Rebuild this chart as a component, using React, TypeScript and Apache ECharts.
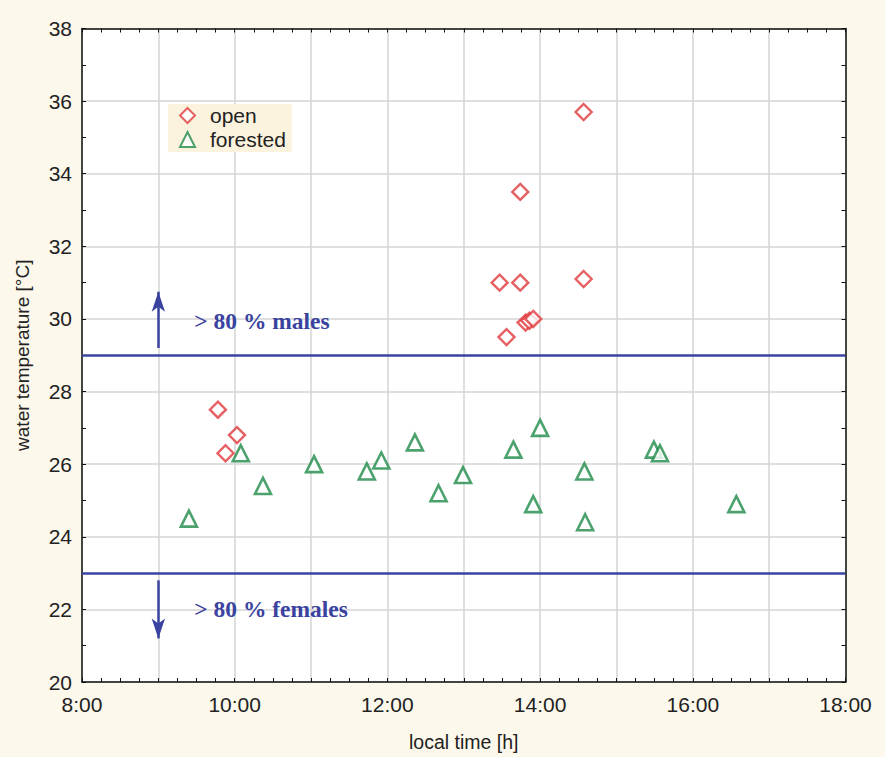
import React, { useEffect, useRef } from "react";
import * as echarts from "echarts";

// local time in decimal hours, water temperature in °C
const openTime = [9.78, 9.88, 10.03, 13.47, 13.56, 13.74, 13.74, 13.81, 13.86, 13.91, 14.57, 14.57];
const openTemp = [27.5, 26.3, 26.8, 31.0, 29.5, 31.0, 33.5, 29.9, 29.95, 30.0, 31.1, 35.7];

const forestTime = [9.4, 10.08, 10.37, 11.04, 11.73, 11.92, 12.36, 12.67, 12.99, 13.65, 14.0, 13.91, 14.58, 14.59, 15.49, 15.57, 16.57];
const forestTemp = [24.5, 26.3, 25.4, 26.0, 25.8, 26.1, 26.6, 25.2, 25.7, 26.4, 27.0, 24.9, 25.8, 24.4, 26.4, 26.3, 24.9];

const thresholds = [29, 23];
const arrowUp = [[9, 29.2], [9, 30.75]];
const arrowDown = [[9, 22.8], [9, 21.2]];
const annotations = [
  { text: "> 80 % males", at: [9.47, 29.95] },
  { text: "> 80 % females", at: [9.47, 22.0] },
];

const xLabels = ["8:00", "10:00", "12:00", "14:00", "16:00", "18:00"];
const yLabels = ["20", "22", "24", "26", "28", "30", "32", "34", "36", "38"];

const BLUE = "#3a43a0";
const RED = "#e0383c";
const GREEN = "#1f8b47";

export default function App() {
  const ref = useRef<HTMLDivElement>(null);
  useEffect(() => {
    document.body.style.margin = "0";
    const chart = echarts.init(ref.current!, null, { renderer: "svg" });
    const axisBase = {
      axisLine: { show: true, lineStyle: { color: "#111", width: 1.5 } },
      axisTick: { show: true, inside: true, length: 4, lineStyle: { color: "#111" } },
    };
    chart.setOption({
      animation: false,
      backgroundColor: "#fcf8ec",
      textStyle: { fontFamily: "Liberation Sans, Arial, sans-serif" },
      grid: { left: 82, top: 28.5, right: 39.5, bottom: 68, show: true, backgroundColor: "#ffffff", borderWidth: 0 },
      legend: {
        orient: "vertical",
        left: 168,
        top: 104,
        backgroundColor: "#fbf3de",
        padding: [1, 6, 2, 11],
        itemGap: 3,
        itemWidth: 15,
        itemHeight: 15,
        textStyle: { fontSize: 21, color: "#222", padding: [0, 0, 0, 10] },
        data: ["open", "forested"],
      },
      xAxis: [
        {
          type: "value",
          min: 8,
          max: 18,
          interval: 1,
          ...axisBase,
          minorTick: { show: true, splitNumber: 4, length: 4, lineStyle: { color: "#111" } },
          splitLine: { show: true, lineStyle: { color: "#d4d4d4", width: 1.5 } },
          axisLabel: {
            fontSize: 21,
            color: "#222",
            margin: 12,
            formatter: (v: number) => {
              const s = `${v}:00`;
              return xLabels.includes(s) ? s : "";
            },
          },
          name: "local time [h]",
          nameLocation: "middle",
          nameGap: 50,
          nameTextStyle: { fontSize: 19.5, color: "#222" },
        },
        {
          type: "value",
          position: "top",
          min: 8,
          max: 18,
          interval: 1,
          ...axisBase,
          minorTick: { show: true, splitNumber: 4, length: 4, lineStyle: { color: "#111" } },
          splitLine: { show: false },
          axisLabel: { show: false },
        },
      ],
      yAxis: [
        {
          type: "value",
          min: 20,
          max: 38,
          interval: 2,
          ...axisBase,
          minorTick: { show: true, splitNumber: 2, length: 4, lineStyle: { color: "#111" } },
          splitLine: { show: true, lineStyle: { color: "#d4d4d4", width: 1.5 } },
          axisLabel: {
            fontSize: 21,
            color: "#222",
            margin: 10,
            formatter: (v: number) => (yLabels.includes(String(v)) ? String(v) : ""),
          },
          name: "water temperature [°C]",
          nameLocation: "middle",
          nameGap: 50,
          nameTextStyle: { fontSize: 19, color: "#222" },
        },
        {
          type: "value",
          position: "right",
          min: 20,
          max: 38,
          interval: 2,
          ...axisBase,
          minorTick: { show: true, splitNumber: 2, length: 4, lineStyle: { color: "#111" } },
          splitLine: { show: false },
          axisLabel: { show: false },
        },
      ],
      series: [
        {
          name: "guides",
          type: "scatter",
          data: [],
          silent: true,
          markLine: {
            silent: true,
            symbol: "none",
            label: { show: false },
            lineStyle: { color: BLUE, width: 2.5, type: "solid" },
            data: [
              ...thresholds.map((t) => ({ yAxis: t })),
              [
                { coord: arrowUp[0], symbol: "none" },
                { coord: arrowUp[1], symbol: "arrow", symbolSize: [10, 20] },
              ],
              [
                { coord: arrowDown[0], symbol: "none" },
                { coord: arrowDown[1], symbol: "arrow", symbolSize: [10, 20] },
              ],
            ],
          },
          markPoint: {
            silent: true,
            symbol: "circle",
            symbolSize: 0,
            label: {
              show: true,
              position: "right",
              distance: 0,
              fontFamily: "Liberation Serif, Times New Roman, serif",
              fontWeight: "bold",
              fontSize: 23.5,
              color: BLUE,
            },
            data: annotations.map((a) => ({ coord: a.at, value: a.text, label: { formatter: a.text } })),
          },
        },
        {
          name: "open",
          type: "scatter",
          symbol: "diamond",
          symbolSize: 16,
          itemStyle: { color: "#ffffff", borderColor: RED, borderWidth: 2.4 },
          data: openTime.map((t, i) => [t, openTemp[i]]),
        },
        {
          name: "forested",
          type: "scatter",
          symbol: "triangle",
          symbolSize: 16,
          itemStyle: { color: "#ffffff", borderColor: GREEN, borderWidth: 2.6 },
          data: forestTime.map((t, i) => [t, forestTemp[i]]),
        },
      ],
    });
    return () => chart.dispose();
  }, []);
  return <div ref={ref} style={{ width: 885, height: 757 }} />;
}
